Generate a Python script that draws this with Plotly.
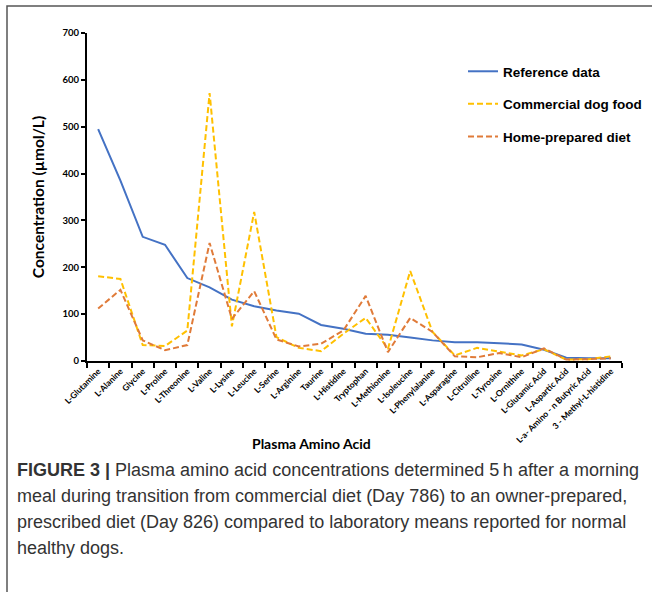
import plotly.graph_objects as go

amino_acids = ["L-Glutamine", "L-Alanine", "Glycine", "L-Proline", "L-Threonine", "L-Valine",
               "L-Lysine", "L-Leucine", "L-Serine", "L-Arginine", "Taurine", "L-Histidine",
               "Tryptophan", "L-Methionine", "L-Isoleucine", "L-Phenylalanine", "L-Asparagine",
               "L-Citrulline", "L-Tyrosine", "L-Ornithine", "L-Glutamic Acid", "L-Aspartic Acid",
               "L-a- Amino - n Butyric Acid", "3 - Methyl-L-histidine"]

reference_data = [495, 385, 265, 248, 177, 157, 131, 117, 108, 101, 77, 69,
                  58, 56, 50, 44, 40, 40, 38, 35, 24, 7, 6, 6]
commercial_food = [181, 175, 34, 32, 65, 572, 74, 318, 51, 28, 21, 58,
                   92, 26, 192, 62, 12, 28, 20, 12, 25, 3, 4, 10]
home_prepared = [112, 152, 44, 23, 34, 252, 90, 149, 46, 31, 37, 65,
                 139, 19, 92, 62, 10, 8, 17, 8, 27, 3, 4, 6]

W, H = 652, 592
L, R, T, B = 87, 30, 33, 231
pw, ph = W - L - R, H - T - B

def px(x):
    return (x - L) / pw

def py(y):
    return (H - B - y) / ph

fig = go.Figure()
fig.add_trace(go.Scatter(x=amino_acids, y=reference_data, mode="lines", name="<b>Reference data</b>",
                         legendgroup="a", line=dict(color="#4472C4", width=2)))
fig.add_trace(go.Scatter(x=amino_acids, y=commercial_food, mode="lines", name="<b>Commercial dog food</b>",
                         legendgroup="b", line=dict(color="#FFC000", width=2, dash="6px,3px")))
fig.add_trace(go.Scatter(x=amino_acids, y=home_prepared, mode="lines", name="<b>Home-prepared diet</b>",
                         legendgroup="c", line=dict(color="#E07B39", width=2, dash="6px,3px")))

chart_font = "Lato"

fig.update_layout(
    width=W, height=H,
    margin=dict(l=L, r=R, t=T, b=B, pad=0, autoexpand=False),
    paper_bgcolor="white", plot_bgcolor="white",
    font=dict(family=chart_font, color="black"),
    showlegend=True,
    legend=dict(x=px(463), y=py(56), xanchor="left", yanchor="top",
                font=dict(family="Liberation Sans", size=13.5, color="black"),
                tracegroupgap=12, bgcolor="rgba(0,0,0,0)", itemwidth=30),
    xaxis=dict(
        type="category", tickson="boundaries", ticks="outside", ticklen=5, tickwidth=1.5,
        tickcolor="black", showline=True, linecolor="black", linewidth=2,
        showgrid=False, tickangle=-45, automargin=False,
        tickfont=dict(family=chart_font, size=8.5, color="black"),
        range=[-0.5, len(amino_acids) - 0.5],
        tickmode="array", tickvals=amino_acids, ticktext=["<b>%s</b>" % a for a in amino_acids],
    ),
    yaxis=dict(
        range=[0, 700], dtick=100, ticks="outside", ticklen=4, tickwidth=1.5, tickcolor="black",
        showline=True, linecolor="black", linewidth=2, showgrid=False, zeroline=False,
        automargin=False,
        tickfont=dict(family=chart_font, size=9.5, color="black"),
        tickprefix="<b>", ticksuffix="</b>",
        title=dict(text="<b>Concentration (µmol/L)</b>", font=dict(family=chart_font, size=15.5), standoff=14),
    ),
)

fig.add_annotation(text="<b>Plasma Amino Acid</b>", xref="paper", yref="paper",
                   x=px(311), y=py(444), xanchor="center", yanchor="middle", showarrow=False,
                   font=dict(family=chart_font, size=14, color="black"))

caption_lines = [
    "<b>FIGURE 3 |</b> Plasma amino acid concentrations determined 5\u2009h after a morning",
    "meal during transition from commercial diet (Day 786) to an owner-prepared,",
    "prescribed diet (Day 826) compared to laboratory means reported for normal",
    "healthy dogs.",
]
caption_y = [470, 496, 522, 548]
for line, yy in zip(caption_lines, caption_y):
    fig.add_annotation(text=line, xref="paper", yref="paper", x=px(15), y=py(yy),
                       xanchor="left", yanchor="middle", showarrow=False,
                       font=dict(family="Liberation Sans", size=18, color="#333333"))

fig.add_shape(type="rect", xref="paper", yref="paper", x0=px(7), x1=px(670), y0=py(620), y1=py(6),
              line=dict(color="#555555", width=1.5), fillcolor="rgba(0,0,0,0)", layer="below")

fig.write_html("out.html", config={"displayModeBar": False},
               post_script="document.body.style.margin='0px';")
